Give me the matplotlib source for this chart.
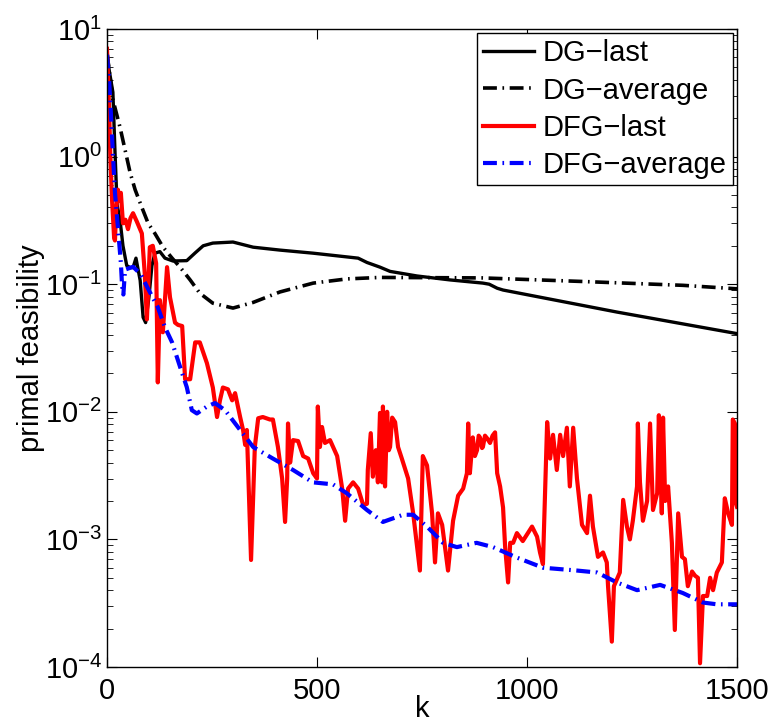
"""Primal feasibility vs iteration for DG / DFG (last and averaged iterates)."""

import numpy as np
import matplotlib
matplotlib.use("Agg")
import matplotlib.pyplot as plt

plt.rcParams["font.family"] = ["Liberation Sans", "DejaVu Sans"]
plt.rcParams["lines.scale_dashes"] = False

# DG, last iterate
dg_last_k = [0, 5, 14, 19, 24, 31, 38, 47, 55, 62, 69, 79, 86, 92, 100, 107, 114, 126,
             138, 157, 190, 210, 229, 252, 300, 348, 412, 491, 598, 619, 650, 674, 738,
             817, 895, 910, 929, 943, 1214, 1500]
dg_last = [6.6, 4.8, 3.2, 1.1, 0.42, 0.32, 0.2, 0.14, 0.135, 0.135, 0.16, 0.107, 0.055,
           0.05, 0.08, 0.14, 0.175, 0.18, 0.16, 0.152, 0.153, 0.176, 0.2, 0.21, 0.214,
           0.195, 0.185, 0.175, 0.16, 0.148, 0.136, 0.126, 0.116, 0.108, 0.102, 0.1,
           0.093, 0.09, 0.0605, 0.041]

# DG, averaged iterate
dg_avg_k = [0, 5, 14, 31, 43, 55, 67, 83, 98, 114, 133, 155, 174, 198, 221, 252, 300,
            348, 412, 491, 571, 650, 895, 1133, 1371, 1500]
dg_avg = [6.5, 4.8, 2.8, 1.7, 1.13, 0.75, 0.55, 0.40, 0.30, 0.25, 0.196, 0.16, 0.136,
          0.108, 0.085, 0.071, 0.065, 0.072, 0.087, 0.102, 0.110, 0.113, 0.112, 0.105,
          0.098, 0.092]

# DFG, last iterate
dfg_last_k = [0, 4, 8, 12, 15, 17, 19, 22, 26, 29, 33, 38, 44, 50, 56, 62, 71, 83, 90,
              95, 98, 102, 109, 117, 121, 126, 133, 143, 150, 162, 169, 179, 186, 198,
              210, 221, 238, 252, 262, 269, 276, 288, 298, 305, 317, 324, 329, 333, 343,
              352, 360, 371, 388, 395, 407, 417, 424, 429, 431, 436, 443, 455, 467, 479,
              491, 500, 502, 507, 512, 519, 531, 548, 560, 567, 574, 586, 598, 610, 619,
              621, 628, 633, 640, 645, 650, 655, 657, 662, 667, 671, 674, 679, 686, 693,
              702, 717, 729, 745, 752, 762, 774, 781, 788, 798, 812, 824, 836, 848, 857,
              860, 864, 871, 876, 881, 885, 888, 893, 895, 900, 905, 912, 918, 924, 929,
              936, 943, 948, 955, 960, 967, 976, 990, 1012, 1024, 1031, 1038, 1048, 1055,
              1062, 1071, 1079, 1086, 1095, 1102, 1110, 1119, 1131, 1143, 1150, 1157,
              1169, 1181, 1190, 1193, 1202, 1207, 1221, 1229, 1238, 1245, 1252, 1262,
              1264, 1269, 1276, 1286, 1293, 1300, 1310, 1314, 1321, 1324, 1329, 1336,
              1345, 1352, 1360, 1369, 1376, 1383, 1393, 1400, 1407, 1412, 1419, 1429,
              1436, 1443, 1452, 1464, 1471, 1479, 1488, 1490, 1495, 1498, 1500]
dfg_last = [7.0, 3.0, 1.0, 0.46, 0.3, 0.23, 0.22, 0.4, 0.55, 0.45, 0.52, 0.3, 0.32, 0.27,
            0.33, 0.36, 0.31, 0.25, 0.12, 0.053, 0.09, 0.195, 0.2, 0.146, 0.017, 0.075,
            0.042, 0.136, 0.079, 0.050, 0.048, 0.047, 0.018, 0.018, 0.035, 0.035, 0.024,
            0.0155, 0.0091, 0.0123, 0.0155, 0.015, 0.0123, 0.014, 0.0091, 0.0072, 0.0055,
            0.0072, 0.00069, 0.0053, 0.0089, 0.0091, 0.0087, 0.0087, 0.0053, 0.0030,
            0.00137, 0.003, 0.0081, 0.004, 0.006, 0.0059, 0.0045, 0.0043, 0.0033, 0.003,
            0.011, 0.0053, 0.0076, 0.0057, 0.006, 0.0045, 0.0025, 0.0014, 0.0025, 0.0028,
            0.0025, 0.00186, 0.0019, 0.0035, 0.0068, 0.0031, 0.005, 0.0028, 0.0098,
            0.0028, 0.011, 0.0026, 0.010, 0.005, 0.0053, 0.009, 0.0083, 0.0053, 0.0043,
            0.003, 0.0016, 0.00057, 0.0045, 0.0038, 0.0016, 0.00066, 0.0016, 0.0013,
            0.00057, 0.0014, 0.0022, 0.0025, 0.0033, 0.0081, 0.0033, 0.0063, 0.0045,
            0.0050, 0.0065, 0.0063, 0.0052, 0.0053, 0.0065, 0.0062, 0.0057, 0.0065,
            0.0069, 0.0033, 0.0026, 0.00178, 0.00087, 0.00046, 0.00094, 0.00094, 0.00112,
            0.00097, 0.00126, 0.00105, 0.00079, 0.00064, 0.0083, 0.0043, 0.0066, 0.0035,
            0.0066, 0.0045, 0.0075, 0.0026, 0.0075, 0.003, 0.0013, 0.00112, 0.0022,
            0.00126, 0.00073, 0.00079, 0.00066, 0.00043, 0.000158, 0.00043, 0.00055,
            0.00204, 0.00126, 0.001, 0.0014, 0.0026, 0.0081, 0.0028, 0.0014, 0.002,
            0.0081, 0.0017, 0.0023, 0.0094, 0.0016, 0.009, 0.002, 0.0026, 0.00094,
            0.000195, 0.0016, 0.00073, 0.0007, 0.00043, 0.00056, 0.00052, 0.0005,
            0.000107, 0.00036, 0.00036, 0.0005, 0.0004, 0.00055, 0.00066, 0.0021, 0.0016,
            0.0013, 0.0087, 0.0081, 0.0019, 0.0018]

# DFG, averaged iterate
dfg_avg_k = [0, 5, 10, 14, 19, 26, 33, 36, 39, 43, 62, 80, 95, 121, 138, 155, 174, 190,
             202, 214, 238, 257, 281, 317, 348, 395, 443, 490, 538, 571, 619, 657, 705,
             729, 762, 800, 833, 880, 919, 976, 1038, 1119, 1167, 1214, 1262, 1317, 1371,
             1419, 1452, 1500]
dfg_avg = [6.3, 4.0, 1.95, 1.07, 0.52, 0.28, 0.147, 0.096, 0.083, 0.13, 0.137, 0.12,
           0.096, 0.066, 0.046, 0.035, 0.0225, 0.0156, 0.0103, 0.0097, 0.011, 0.0117,
           0.0103, 0.0072, 0.0053, 0.0043, 0.0035, 0.0028, 0.0027, 0.0023, 0.0017,
           0.00137, 0.00156, 0.00156, 0.00126, 0.00094, 0.00087, 0.00094, 0.00087,
           0.00072, 0.00060, 0.00057, 0.00055, 0.00046, 0.00040, 0.00044, 0.00038,
           0.00032, 0.00031, 0.00031]

dashdot = (0, (10, 4, 1.2, 4))

fig = plt.figure(figsize=(7.77, 7.25), dpi=100)
ax = fig.add_axes([0.1377, 0.08, 0.8108, 0.88])

ax.semilogy(dg_last_k, dg_last, color="black", lw=2.4, label="DG\u2212last")
ax.semilogy(dg_avg_k, dg_avg, color="black", lw=2.6, ls=dashdot, label="DG\u2212average")
ax.semilogy(dfg_last_k, dfg_last, color="red", lw=3.0, label="DFG\u2212last")
ax.semilogy(dfg_avg_k, dfg_avg, color="blue", lw=3.0, ls=dashdot, label="DFG\u2212average")

ax.set_xlim(0, 1500)
ax.set_ylim(1e-4, 1e1)
ax.set_xticks([0, 500, 1000, 1500])
ax.tick_params(which="both", direction="in", top=True, right=True, labelsize=21)
ax.tick_params(which="major", length=7, width=0.8)
ax.tick_params(axis="x", pad=7)
ax.tick_params(which="minor", length=4, width=0.6)
for s in ax.spines.values():
    s.set_linewidth(1.0)

ax.set_xlabel("k", fontsize=21, labelpad=-7)
ax.set_ylabel("primal feasibility", fontsize=21, labelpad=0)

leg = ax.legend(loc="upper right", fontsize=21, fancybox=False, framealpha=1,
                edgecolor="black", borderaxespad=0.15, borderpad=0.2, labelspacing=0.32,
                handlelength=1.75, handletextpad=0.3)
leg.get_frame().set_linewidth(1.0)

fig.savefig("out.png", dpi=100)
